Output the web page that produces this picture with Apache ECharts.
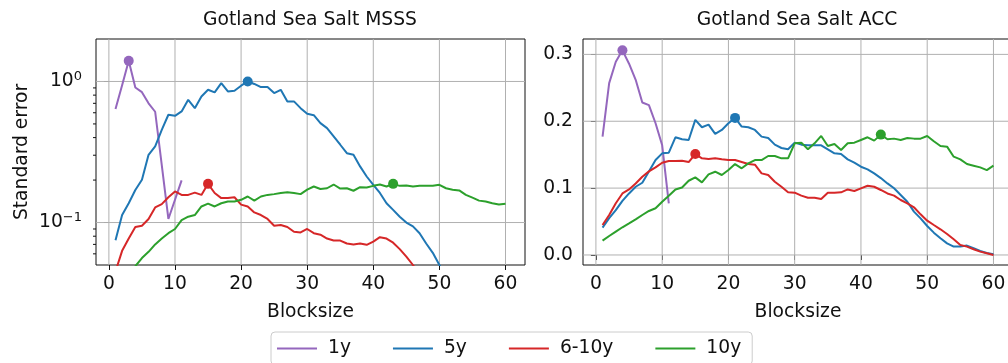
<!DOCTYPE html>
<html lang="en">
<head>
    <meta charset="UTF-8">
    <title>Gotland Sea Salt</title>
    <script src="https://cdn.jsdelivr.net/npm/echarts@6/dist/echarts.min.js"></script>
    <style>
        html, body {
            margin: 0;
            padding: 0;
            background: #fff;
        }

        #main {
            width: 1008px;
            height: 363px;
        }
    </style>
</head>
<body>
<div id="main"></div>
<script>
    // x values (blocksize)
    var blocks = [1, 2, 3, 4, 5, 6, 7, 8, 9, 10, 11, 12, 13, 14, 15, 16, 17, 18, 19, 20,
        21, 22, 23, 24, 25, 26, 27, 28, 29, 30, 31, 32, 33, 34, 35, 36, 37, 38, 39, 40,
        41, 42, 43, 44, 45, 46, 47, 48, 49, 50, 51, 52, 53, 54, 55, 56, 57, 58, 59, 60];
    var xTicks = [0, 10, 20, 30, 40, 50, 60];
    var msssTicks = [0.1, 1];
    var msssMinorTicks = [0.06, 0.07, 0.08, 0.09, 0.2, 0.3, 0.4, 0.5, 0.6, 0.7, 0.8, 0.9];
    var accTicks = [0, 0.1, 0.2, 0.3];
    var seriesNames = ['1y', '5y', '6-10y', '10y'];

    // MSSS panel (log scale)
    var msss1y = [0.637, 0.94, 1.40, 0.907, 0.84, 0.70, 0.61, 0.255, 0.106, 0.145, 0.199];
    var msss5y = [0.075, 0.113, 0.137, 0.17, 0.201, 0.302, 0.346, 0.454, 0.581, 0.571,
        0.613, 0.741, 0.647, 0.783, 0.873, 0.836, 0.973, 0.849, 0.86, 0.933,
        1.0, 0.96, 0.912, 0.912, 0.828, 0.873, 0.722, 0.722, 0.647, 0.59,
        0.577, 0.507, 0.467, 0.408, 0.356, 0.31, 0.302, 0.25, 0.212, 0.185,
        0.162, 0.137, 0.123, 0.110, 0.1, 0.094, 0.084, 0.071, 0.061, 0.050, 0.042];
    var msss610 = [0.045, 0.063, 0.077, 0.093, 0.095, 0.106, 0.128, 0.135, 0.151, 0.166,
        0.157, 0.157, 0.163, 0.157, 0.188, 0.162, 0.149, 0.149, 0.151, 0.134,
        0.130, 0.118, 0.113, 0.106, 0.095, 0.096, 0.093, 0.086, 0.085, 0.090,
        0.084, 0.082, 0.077, 0.0745, 0.0745, 0.071, 0.070, 0.071, 0.0695, 0.0733,
        0.0787, 0.077, 0.072, 0.0648, 0.0574, 0.050, 0.043];
    var msss10 = [0.031, 0.036, 0.042, 0.049, 0.056, 0.062, 0.070, 0.077, 0.084, 0.090,
        0.104, 0.110, 0.113, 0.130, 0.136, 0.130, 0.137, 0.141, 0.141, 0.145,
        0.153, 0.143, 0.153, 0.157, 0.159, 0.162, 0.164, 0.162, 0.159, 0.171,
        0.180, 0.173, 0.175, 0.186, 0.174, 0.175, 0.168, 0.178, 0.177, 0.182,
        0.186, 0.180, 0.188, 0.182, 0.183, 0.180, 0.182, 0.182, 0.182, 0.185,
        0.175, 0.171, 0.169, 0.157, 0.150, 0.143, 0.141, 0.137, 0.134, 0.136];

    // ACC panel (linear scale)
    var acc1y = [0.177, 0.257, 0.289, 0.306, 0.286, 0.262, 0.228, 0.224, 0.197, 0.164, 0.077];
    var acc5y = [0.041, 0.055, 0.067, 0.081, 0.092, 0.102, 0.108, 0.125, 0.142, 0.152,
        0.153, 0.176, 0.173, 0.172, 0.202, 0.191, 0.195, 0.181, 0.187, 0.197,
        0.205, 0.192, 0.191, 0.187, 0.177, 0.175, 0.165, 0.160, 0.158, 0.168,
        0.165, 0.164, 0.164, 0.164, 0.158, 0.152, 0.151, 0.143, 0.138, 0.132,
        0.128, 0.122, 0.115, 0.107, 0.0997, 0.0897, 0.0797, 0.0648, 0.0548, 0.0433,
        0.0334, 0.025, 0.0174, 0.0125, 0.0125, 0.014, 0.010, 0.006, 0.003, 0.001];
    var acc610 = [0.0448, 0.0598, 0.0773, 0.092, 0.098, 0.107, 0.117, 0.125, 0.131, 0.138,
        0.1405, 0.1405, 0.141, 0.139, 0.151, 0.1445, 0.1435, 0.1445, 0.143, 0.142,
        0.142, 0.139, 0.136, 0.135, 0.122, 0.1196, 0.1096, 0.102, 0.0937, 0.0932,
        0.0887, 0.0857, 0.0857, 0.0837, 0.0932, 0.0932, 0.0937, 0.098, 0.0957, 0.0997,
        0.1036, 0.102, 0.0972, 0.092, 0.0887, 0.0822, 0.0773, 0.0713, 0.0608, 0.0513,
        0.0448, 0.0384, 0.0314, 0.0234, 0.015, 0.0125, 0.0085, 0.005, 0.0025, 0.0];
    var acc10 = [0.0214, 0.0284, 0.0349, 0.0414, 0.0473, 0.0533, 0.0598, 0.0658, 0.0698, 0.0797,
        0.0887, 0.098, 0.101, 0.111, 0.116, 0.1086, 0.1206, 0.1245, 0.1196, 0.127,
        0.136, 0.1296, 0.137, 0.142, 0.142, 0.148, 0.148, 0.1445, 0.1445, 0.167,
        0.168, 0.158, 0.167, 0.178, 0.163, 0.166, 0.157, 0.167, 0.168, 0.172,
        0.176, 0.171, 0.180, 0.173, 0.174, 0.172, 0.175, 0.174, 0.174, 0.178,
        0.170, 0.163, 0.162, 0.147, 0.143, 0.136, 0.1335, 0.131, 0.127, 0.1335];

    var colors = ['#9467bd', '#1f77b4', '#d62728', '#2ca02c'];
    var font = 'DejaVu Sans';
    var fs = 18.7;
    var xMin = -1.95, xMax = 62.95;
    var accMin = -0.015, accMax = 0.323;

    var myChart = echarts.init(document.getElementById('main'), null, {renderer: 'canvas'});

    function pairs(arr) {
        return arr.map(function (v, i) {
            return [blocks[i], v];
        });
    }

    function makeLine(name, arr, idx, color) {
        return {
            name: name,
            type: 'line',
            xAxisIndex: idx,
            yAxisIndex: idx,
            data: pairs(arr),
            symbol: 'none',
            color: color,
            lineStyle: {width: 2, color: color},
            clip: true,
            z: 3,
            animation: false,
            markPoint: {
                symbol: 'circle',
                symbolSize: 10,
                itemStyle: {color: color},
                label: {show: false},
                data: [{type: 'max', valueDim: 'y'}],
                animation: false
            }
        };
    }

    // grid lines drawn through the axes' own scales
    function gridLines(idx, xs, ys, y0, y1) {
        var data = [];
        xs.forEach(function (v) {
            data.push([v, y0, v, y1]);
        });
        ys.forEach(function (v) {
            data.push([xMin, v, xMax, v]);
        });
        return {
            type: 'custom',
            xAxisIndex: idx,
            yAxisIndex: idx,
            silent: true,
            animation: false,
            z: 1,
            data: data,
            renderItem: function (params, api) {
                var a = api.coord([api.value(0), api.value(1)]);
                var b = api.coord([api.value(2), api.value(3)]);
                return {
                    type: 'line',
                    shape: {x1: a[0], y1: a[1], x2: b[0], y2: b[1]},
                    style: {stroke: '#b0b0b0', lineWidth: 1}
                };
            }
        };
    }

    var hidden = {show: false};

    function xAxisCfg(idx) {
        return {
            type: 'value',
            gridIndex: idx,
            min: xMin,
            max: xMax,
            name: 'Blocksize',
            nameLocation: 'middle',
            nameGap: 38,
            nameTextStyle: {fontFamily: font, fontSize: fs, color: '#111'},
            axisLine: hidden,
            axisTick: {show: true, length: 5, lineStyle: {color: '#111'}, customValues: xTicks},
            axisLabel: {fontFamily: font, fontSize: fs, color: '#111', margin: 10, customValues: xTicks},
            splitLine: hidden,
            minorTick: hidden,
            minorSplitLine: hidden,
            splitArea: hidden
        };
    }

    var msssData = [msss1y, msss5y, msss610, msss10];
    var accData = [acc1y, acc5y, acc610, acc10];
    var series = [
        gridLines(0, xTicks, msssTicks, 0.05, 2.0),
        gridLines(1, xTicks, accTicks, accMin, accMax)
    ];
    seriesNames.forEach(function (n, i) {
        series.push(makeLine(n, msssData[i], 0, colors[i]));
    });
    seriesNames.forEach(function (n, i) {
        series.push(makeLine(n, accData[i], 1, colors[i]));
    });

    // minor ticks of the log axis
    series.push({
        type: 'custom',
        xAxisIndex: 0,
        yAxisIndex: 0,
        silent: true,
        animation: false,
        data: msssMinorTicks.map(function (v) {
            return [xMin, v];
        }),
        renderItem: function (params, api) {
            var p = api.coord([api.value(0), api.value(1)]);
            return {
                type: 'line',
                shape: {x1: p[0] - 3, y1: p[1], x2: p[0], y2: p[1]},
                style: {stroke: '#111', lineWidth: 1}
            };
        }
    });

    var option = {
        backgroundColor: '#fff',
        animation: false,
        title: [
            {text: 'Gotland Sea Salt MSSS', left: 310, top: 11, textAlign: 'center', padding: 0,
                textStyle: {fontFamily: font, fontSize: fs, fontWeight: 'normal', color: '#111'}},
            {text: 'Gotland Sea Salt ACC', left: 797, top: 11, textAlign: 'center', padding: 0,
                textStyle: {fontFamily: font, fontSize: fs, fontWeight: 'normal', color: '#111'}}
        ],
        legend: {
            data: seriesNames,
            left: 271,
            top: 332,
            padding: [7, 11, 7, 6],
            icon: 'rect',
            itemWidth: 40,
            itemHeight: 2,
            itemGap: 42,
            borderColor: '#cccccc',
            borderWidth: 1,
            borderRadius: 4,
            textStyle: {fontFamily: font, fontSize: fs, color: '#111', padding: [0, 0, 0, 6]}
        },
        grid: [
            {left: 96, top: 39, width: 429, height: 226, show: true, borderColor: '#111', borderWidth: 1,
                outerBoundsMode: 'none', containLabel: false},
            {left: 583, top: 39, width: 430, height: 226, show: true, borderColor: '#111', borderWidth: 1,
                outerBoundsMode: 'none', containLabel: false}
        ],
        xAxis: [xAxisCfg(0), xAxisCfg(1)],
        yAxis: [
            {
                type: 'log',
                gridIndex: 0,
                logBase: 10,
                min: 0.05,
                max: 2.0,
                name: 'Standard error',
                nameLocation: 'middle',
                nameGap: 64,
                nameTextStyle: {fontFamily: font, fontSize: fs, color: '#111'},
                axisLine: hidden,
                axisTick: {show: true, length: 5, lineStyle: {color: '#111'}, customValues: msssTicks},
                axisLabel: {
                    fontFamily: font, fontSize: fs, color: '#111', margin: 14,
                    customValues: msssTicks,
                    formatter: function (v) {
                        var e = Math.round(Math.log10(v));
                        return '{b|10}{s|' + (e < 0 ? '\u2212' + (-e) : e) + '}';
                    },
                    rich: {
                        b: {fontFamily: font, fontSize: fs, color: '#111'},
                        s: {fontFamily: font, fontSize: 13, color: '#111', padding: [0, 0, 10, 0]}
                    }
                },
                splitLine: hidden,
                minorTick: hidden,
                minorSplitLine: hidden,
                splitArea: hidden
            },
            {
                type: 'value',
                gridIndex: 1,
                min: accMin,
                max: accMax,
                axisLine: hidden,
                axisTick: {show: true, length: 5, lineStyle: {color: '#111'}, customValues: accTicks},
                axisLabel: {
                    fontFamily: font, fontSize: fs, color: '#111', margin: 10,
                    customValues: accTicks,
                    formatter: function (v) {
                        return v.toFixed(1);
                    }
                },
                splitLine: hidden,
                minorTick: hidden,
                minorSplitLine: hidden,
                splitArea: hidden
            }
        ],
        series: series
    };

    myChart.setOption(option);
</script>
</body>
</html>
